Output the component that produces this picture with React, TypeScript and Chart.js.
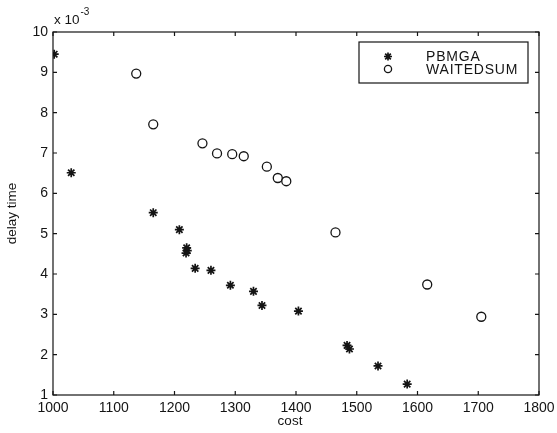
import React, { useEffect, useRef } from "react";
import { Chart, registerables } from "chart.js";

Chart.register(...registerables);

const pbmgaCost = [1002, 1030, 1165, 1208, 1220, 1221, 1219, 1234, 1260, 1292, 1330, 1344, 1404, 1484, 1488, 1535, 1583];
const pbmgaDelay = [9.45, 6.51, 5.52, 5.1, 4.65, 4.58, 4.52, 4.14, 4.09, 3.72, 3.57, 3.22, 3.08, 2.23, 2.14, 1.72, 1.27];

const wsCost = [1137, 1165, 1246, 1270, 1295, 1314, 1352, 1370, 1384, 1465, 1616, 1705];
const wsDelay = [8.97, 7.71, 7.24, 6.99, 6.97, 6.92, 6.66, 6.38, 6.3, 5.03, 3.74, 2.94];

const seriesNames = ["PBMGA", "WAITEDSUM"];
const xTitle = "cost";
const yTitle = "delay time";
const yExponent = "-3";

const INK = "#141414";
const FONT = "Liberation Sans, Arial, sans-serif";

const framePlugin = {
  id: "frame",
  afterDraw(chart: any) {
    const { ctx, chartArea: a, scales } = chart;
    const xs = scales.x;
    const ys = scales.y;
    ctx.save();
    ctx.strokeStyle = INK;
    ctx.lineWidth = 1.2;
    ctx.strokeRect(a.left, a.top, a.right - a.left, a.bottom - a.top);
    const tl = 4;
    ctx.beginPath();
    xs.ticks.forEach((t: any) => {
      const px = xs.getPixelForValue(t.value);
      ctx.moveTo(px, a.bottom);
      ctx.lineTo(px, a.bottom - tl);
      ctx.moveTo(px, a.top);
      ctx.lineTo(px, a.top + tl);
    });
    ys.ticks.forEach((t: any) => {
      const py = ys.getPixelForValue(t.value);
      ctx.moveTo(a.left, py);
      ctx.lineTo(a.left + tl, py);
      ctx.moveTo(a.right, py);
      ctx.lineTo(a.right - tl, py);
    });
    ctx.stroke();

    // axis titles
    ctx.fillStyle = INK;
    ctx.font = `13.5px ${FONT}`;
    ctx.textAlign = "center";
    ctx.textBaseline = "middle";
    ctx.fillText(xTitle, 290, 421);
    ctx.save();
    ctx.translate(12, (a.top + a.bottom) / 2);
    ctx.rotate(-Math.PI / 2);
    ctx.fillText(yTitle, 0, 0);
    ctx.restore();

    // exponent
    ctx.textAlign = "left";
    ctx.font = `13.5px ${FONT}`;
    ctx.fillText("x 10", a.left + 1, 20);
    const w = ctx.measureText("x 10").width;
    ctx.font = `10px ${FONT}`;
    ctx.fillText(yExponent, a.left + 1 + w + 1, 12);

    // legend
    const lx = 359, ly = 42, lw = 169, lh = 41;
    ctx.fillStyle = "#fff";
    ctx.fillRect(lx, ly, lw, lh);
    ctx.strokeStyle = INK;
    ctx.lineWidth = 1.2;
    ctx.strokeRect(lx, ly, lw, lh);
    chart.data.datasets.forEach((ds: any, i: number) => {
      const cy = ly + 14.5 + i * 12.5;
      const cx = lx + 29;
      ctx.strokeStyle = INK;
      ctx.fillStyle = "#fff";
      ctx.lineWidth = ds.borderWidth;
      ctx.beginPath();
      if (ds.pointStyle === "star") {
        const r = 4;
        for (let k = 0; k < 4; k++) {
          const ang = (k * Math.PI) / 4;
          ctx.moveTo(cx - r * Math.cos(ang), cy - r * Math.sin(ang));
          ctx.lineTo(cx + r * Math.cos(ang), cy + r * Math.sin(ang));
        }
        ctx.stroke();
      } else {
        ctx.arc(cx, cy, 3.6, 0, Math.PI * 2);
        ctx.fill();
        ctx.stroke();
      }
      ctx.fillStyle = INK;
      ctx.font = `14px ${FONT}`;
      ctx.textAlign = "left";
      ctx.textBaseline = "middle";
      (ctx as any).letterSpacing = "0.8px";
      ctx.fillText(ds.label, lx + 67, cy + 1);
      (ctx as any).letterSpacing = "0px";
    });
    ctx.restore();
  },
};

export default function App() {
  const ref = useRef<HTMLCanvasElement | null>(null);
  useEffect(() => {
    if (!ref.current) return;
    const chart = new Chart(ref.current, {
      type: "scatter",
      data: {
        datasets: [
          {
            label: seriesNames[0],
            data: pbmgaCost.map((c, i) => ({ x: c, y: pbmgaDelay[i] })),
            pointStyle: "star",
            pointRadius: 4.5,
            borderColor: INK,
            backgroundColor: INK,
            borderWidth: 1.7,
          },
          {
            label: seriesNames[1],
            data: wsCost.map((c, i) => ({ x: c, y: wsDelay[i] })),
            pointStyle: "circle",
            pointRadius: 4.5,
            borderColor: INK,
            backgroundColor: "#fff",
            borderWidth: 1.3,
          },
        ],
      },
      options: {
        animation: false,
        responsive: false,
        layout: { padding: { left: 0, top: 32, right: 18, bottom: 0 } },
        plugins: { legend: { display: false }, tooltip: { enabled: false } },
        scales: {
          x: {
            type: "linear",
            min: 1000,
            max: 1800,
            grid: { display: false, drawTicks: false },
            border: { display: false },
            ticks: {
              stepSize: 100,
              color: INK,
              font: { family: FONT, size: 14 },
              padding: 5,
              maxRotation: 0,
              autoSkip: false,
              callback: (v: any) => String(v),
            },
            afterFit: (s: any) => {
              s.height = 38;
              s.paddingLeft = 0;
              s.paddingRight = 0;
            },
          },
          y: {
            type: "linear",
            min: 1,
            max: 10,
            grid: { display: false, drawTicks: false },
            border: { display: false },
            ticks: {
              stepSize: 1,
              color: INK,
              font: { family: FONT, size: 14 },
              padding: 5,
              callback: (v: any) => String(v),
            },
            afterFit: (s: any) => {
              s.width = 53;
              s.paddingTop = 0;
              s.paddingBottom = 0;
            },
          },
        },
      },
      plugins: [framePlugin],
    } as any);
    return () => chart.destroy();
  }, []);
  return (
    <div style={{ position: "absolute", left: 0, top: 0, width: 557, height: 433, background: "#fff", overflow: "hidden" }}>
      <canvas ref={ref} width={557} height={433} style={{ width: 557, height: 433, display: "block" }} />
    </div>
  );
}
